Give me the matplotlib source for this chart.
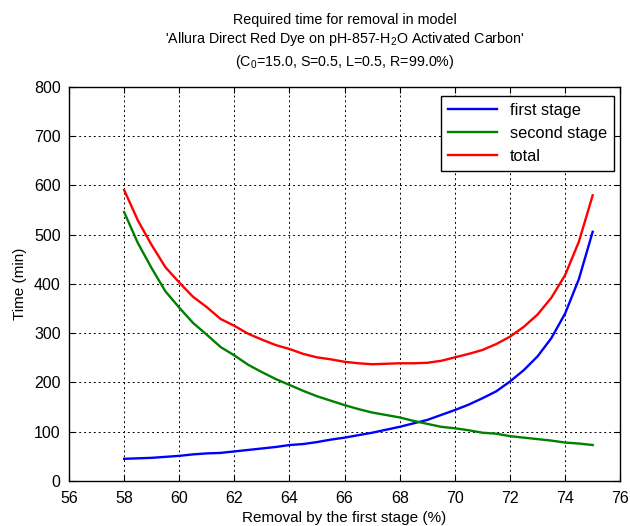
import matplotlib
matplotlib.use("Agg")
import matplotlib.pyplot as plt

plt.rcParams['font.family'] = ['Liberation Sans', 'DejaVu Sans']
plt.rcParams['mathtext.fontset'] = 'custom'
plt.rcParams['mathtext.rm'] = 'Liberation Sans'

# removal by the first stage (%)
removal = [58, 58.5, 59, 59.5, 60, 60.5, 61, 61.5, 62, 62.5, 63, 63.5, 64, 64.5,
           65, 65.5, 66, 66.5, 67, 67.5, 68, 68.5, 69, 69.5, 70, 70.5, 71, 71.5,
           72, 72.5, 73, 73.5, 74, 74.5, 75]
first_stage = [45, 46, 47, 49, 51, 54, 56, 57, 60, 63, 66, 69, 73, 75, 79, 84, 88,
               93, 98, 104, 110, 117, 124, 134, 144, 155, 168, 182, 202, 225, 253,
               290, 340, 410, 506]
second_stage = [546, 483, 432, 385, 352, 321, 297, 272, 255, 236, 221, 207, 195, 183,
                172, 163, 154, 146, 139, 134, 129, 122, 116, 110, 107, 103, 98, 96,
                91, 88, 85, 82, 78, 76, 73]
total = [591, 529, 479, 434, 403, 374, 353, 329, 315, 299, 287, 276, 268, 258, 251,
         247, 242, 239, 237, 238, 239, 239, 240, 244, 251, 258, 266, 278, 293, 313,
         338, 372, 418, 486, 580]

fig = plt.figure(figsize=(6.3, 5.26), dpi=100)
ax = fig.add_axes([0.1095, 0.0856, 0.875, 0.749])

ax.plot(removal, first_stage, color=(0, 0, 1), lw=1.7, label='first stage')
ax.plot(removal, second_stage, color=(0, 0.5, 0), lw=1.7, label='second stage')
ax.plot(removal, total, color=(1, 0, 0), lw=1.7, label='total')

ax.set_xlim(56, 76)
ax.set_ylim(0, 800)
ax.set_xticks(range(56, 77, 2))
ax.set_yticks(range(0, 801, 100))
ax.grid(True, color='black', linestyle=(0, (2, 3)), lw=0.7)
ax.tick_params(direction='in', top=True, right=True, labelsize=11.5, length=4)
ax.tick_params(axis='x', pad=7)
ax.tick_params(axis='y', pad=6)
for s in ax.spines.values():
    s.set_linewidth(1.0)

ax.set_xlabel('Removal by the first stage (%)', fontsize=11, labelpad=4)
ax.set_ylabel('Time (min)', fontsize=11, labelpad=5)

leg = ax.legend(loc='upper right', bbox_to_anchor=(0.988, 0.977), fontsize=11.8,
                fancybox=False, edgecolor='black', framealpha=1, handlelength=3.0,
                borderpad=0.4, labelspacing=0.5, borderaxespad=0)
leg.get_frame().set_linewidth(1.0)

cx = 0.1095 + 0.875 / 2
fig.text(cx, 1 - 20 / 526, 'Required time for removal in model', ha='center', va='center', fontsize=10.3)
fig.text(cx, 1 - 39 / 526, "'Allura Direct Red Dye on pH-857-H$_2$O Activated Carbon'",
         ha='center', va='center', fontsize=10.3)
fig.text(cx, 1 - 62 / 526, '(C$_0$=15.0, S=0.5, L=0.5, R=99.0%)', ha='center', va='center', fontsize=10.3)

fig.savefig('out.png', dpi=100)
